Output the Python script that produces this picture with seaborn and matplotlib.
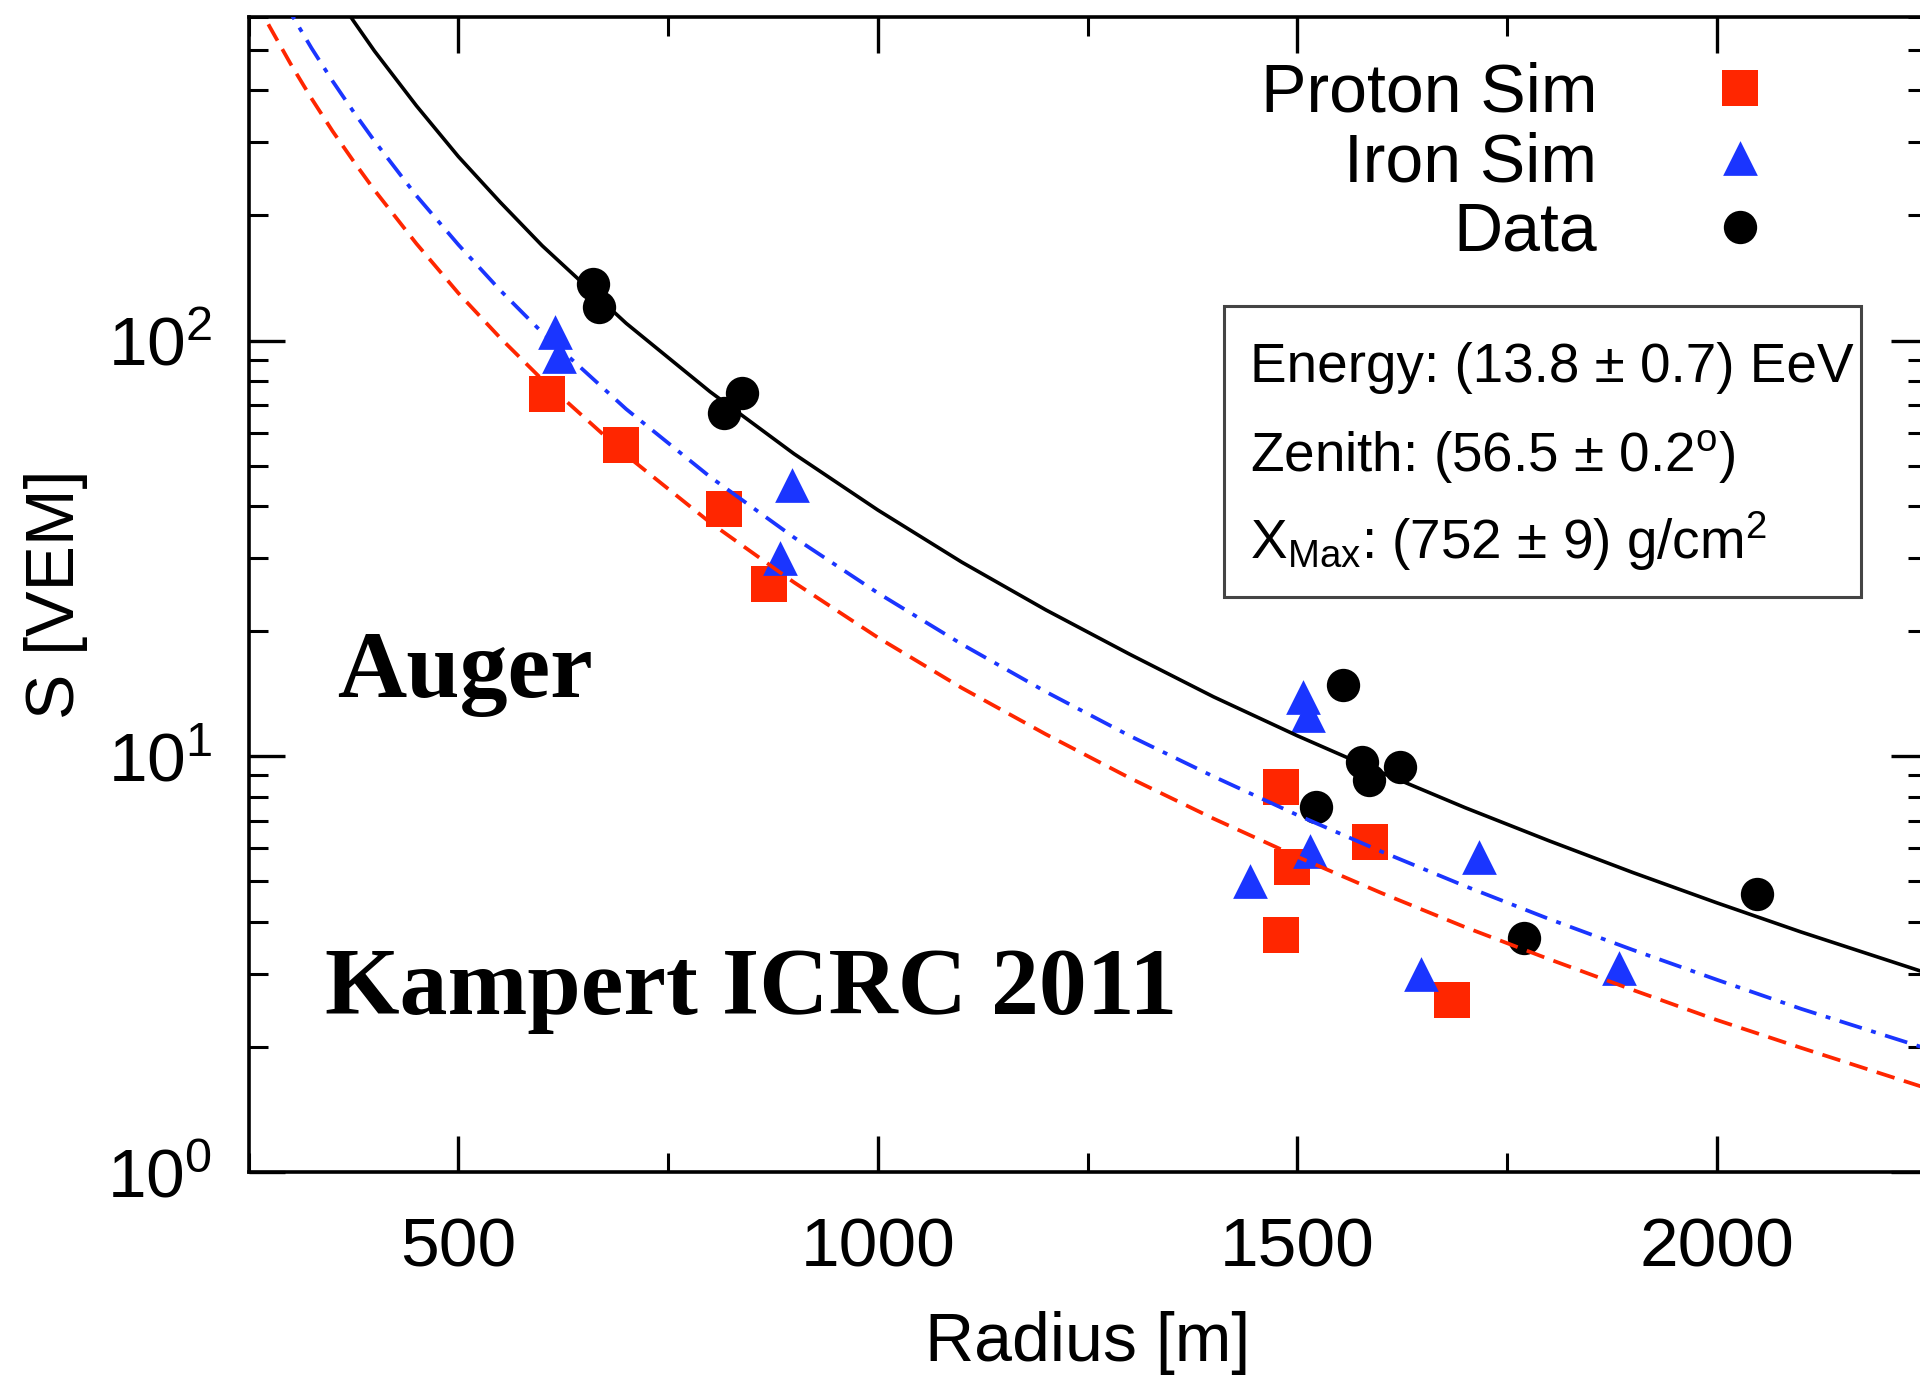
import matplotlib
matplotlib.use("Agg")
import matplotlib.pyplot as plt
import matplotlib.patches as mpatches
from matplotlib.ticker import LogLocator, MultipleLocator, FixedLocator, NullFormatter
import seaborn as sns

# ---------------- data ----------------
proton_r = [606, 694, 816, 870, 1481, 1493, 1481, 1586, 1684]
proton_s = [74.2, 56.0, 39.4, 25.9, 8.44, 5.43, 3.71, 6.22, 2.59]

iron_r = [615, 620, 898, 883, 1507, 1513, 1443, 1515, 1716, 1647, 1883]
iron_s = [104.9, 91.6, 44.9, 29.9, 13.9, 12.6, 5.0, 5.93, 5.73, 3.0, 3.09]

data_r = [660, 668, 816, 838, 1554, 1577, 1585, 1622, 1522, 1770, 2048]
data_s = [136.7, 120.1, 67.0, 74.7, 14.8, 9.67, 8.79, 9.41, 7.57, 3.66, 4.67]

# fitted LDF curves
curve_r = [250, 275, 300, 325, 350, 375, 400, 450, 500, 550, 600, 700, 800, 900,
           1000, 1100, 1200, 1300, 1400, 1500, 1600, 1700, 1800, 1900, 2000, 2100, 2250]
data_fit = [1588, 1264, 1023, 840, 698, 587, 497, 367, 277, 215, 169, 110, 75.3, 53.4,
            39.1, 29.3, 22.5, 17.6, 13.9, 11.2, 9.14, 7.52, 6.26, 5.25, 4.44, 3.78, 3.01]
iron_fit = [946, 756, 614, 505, 421, 355, 302, 223, 170, 132, 104.5, 68.4, 47.0, 33.6,
            24.7, 18.6, 14.3, 11.2, 8.94, 7.22, 5.90, 4.87, 4.06, 3.42, 2.90, 2.47, 1.98]
proton_fit = [711, 569, 463, 382, 319, 270, 230, 171, 130, 101.4, 80.5, 53.0, 36.5, 26.2,
              19.3, 14.6, 11.3, 8.87, 7.08, 5.73, 4.69, 3.88, 3.25, 2.74, 2.32, 1.99, 1.59]

x_major = [500, 1000, 1500, 2000]
x_label = "Radius [m]"
y_label = "S [VEM]"
legend_labels = ["Proton Sim", "Iron Sim", "Data"]
box_lines = ["Energy: (13.8 ± 0.7) EeV",
             "Zenith: (56.5 ± 0.2$^{\\mathrm{o}}$)",
             "X$_{\\mathrm{Max}}$: (752 ± 9) g/cm$^{2}$"]
note1 = "Auger"
note2 = "Kampert ICRC 2011"

# ---------------- style ----------------
sns.set_style("ticks")
plt.rcParams["font.family"] = ["Liberation Sans", "DejaVu Sans"]
plt.rcParams["mathtext.fontset"] = "custom"
plt.rcParams["mathtext.rm"] = "Liberation Sans"
plt.rcParams["mathtext.it"] = "Liberation Sans:italic"
plt.rcParams["mathtext.bf"] = "Liberation Sans:bold"
for key in ["text.color", "axes.labelcolor", "xtick.color", "ytick.color", "axes.edgecolor"]:
    plt.rcParams[key] = "black"

RED = "#ff2600"
BLUE = "#1a35ff"

W, H = 1920, 1378
fig = plt.figure(figsize=(W / 100, H / 100), dpi=100)
ax_l, ax_r, ax_t, ax_b = 248.6, 1926.7, 17, 1172
ax = fig.add_axes([ax_l / W, 1 - ax_b / H, (ax_r - ax_l) / W, (ax_b - ax_t) / H])

ax.set_yscale("log")

# markers
sns.scatterplot(x=proton_r, y=proton_s, marker="s", s=26 ** 2, color=RED, linewidth=0,
                label=legend_labels[0], ax=ax, zorder=2)
sns.scatterplot(x=iron_r, y=iron_s, marker="^", s=25 ** 2, color=BLUE, linewidth=0,
                label=legend_labels[1], ax=ax, zorder=2)
sns.scatterplot(x=data_r, y=data_s, marker="o", s=24 ** 2, color="black", linewidth=0,
                label=legend_labels[2], ax=ax, zorder=2)

# fit curves
sns.lineplot(x=curve_r, y=data_fit, color="black", lw=2.6, legend=False, ax=ax,
             estimator=None, sort=False, zorder=3)
sns.lineplot(x=curve_r, y=iron_fit, color=BLUE, lw=2.7, legend=False, ax=ax,
             estimator=None, sort=False, zorder=3, linestyle=(0, (6.2, 2.6, 1.3, 2.6)))
sns.lineplot(x=curve_r, y=proton_fit, color=RED, lw=2.7, legend=False, ax=ax,
             estimator=None, sort=False, zorder=3, linestyle=(0, (5.0, 2.6)))

ax.set_xlim(250, 2250)
ax.set_ylim(1, 600)

ax.xaxis.set_major_locator(FixedLocator(x_major))
ax.xaxis.set_minor_locator(MultipleLocator(250))
ax.yaxis.set_major_locator(LogLocator(base=10, numticks=10))
ax.yaxis.set_minor_locator(LogLocator(base=10, subs=range(2, 10), numticks=20))
ax.yaxis.set_minor_formatter(NullFormatter())

ax.tick_params(which="major", direction="in", length=26, width=2.4,
               top=True, right=True, labelsize=50)
ax.tick_params(which="minor", direction="in", length=14, width=2.2,
               top=True, right=True)
ax.tick_params(axis="x", which="major", pad=32)
ax.tick_params(axis="y", which="major", pad=26)
for sp in ax.spines.values():
    sp.set_linewidth(2.6)
    sp.set_color("black")

ax.set_xlabel(x_label, fontsize=49, labelpad=22)
ax.set_ylabel(y_label, fontsize=49, labelpad=14)

# legend: labels right aligned, markers on the right
leg = ax.legend(loc="upper right", bbox_to_anchor=(1774 / W, 1 - 62 / H),
                bbox_transform=fig.transFigure, frameon=False, markerfirst=False,
                fontsize=49, handlelength=1.0, handletextpad=1.6, labelspacing=0.08,
                borderpad=0, borderaxespad=0, scatteryoffsets=[0.5])

# parameter box
fig.add_artist(mpatches.Rectangle((1224 / W, 1 - 597 / H), (1861 - 1224) / W, (597 - 306) / H,
                                  transform=fig.transFigure, fill=False,
                                  edgecolor="#444444", lw=2.2, zorder=5))
for txt, yb in zip(box_lines, [382, 472, 559]):
    fig.text(1250 / W, 1 - yb / H, txt, fontsize=39.5, ha="left", va="baseline")

# annotations
fig.text(337 / W, 1 - 697 / H, note1, fontsize=69, fontweight="bold",
         family="Liberation Serif", ha="left", va="baseline")
fig.text(325 / W, 1 - 1014 / H, note2, fontsize=69, fontweight="bold",
         family="Liberation Serif", ha="left", va="baseline")

fig.savefig("out.png", dpi=100)
